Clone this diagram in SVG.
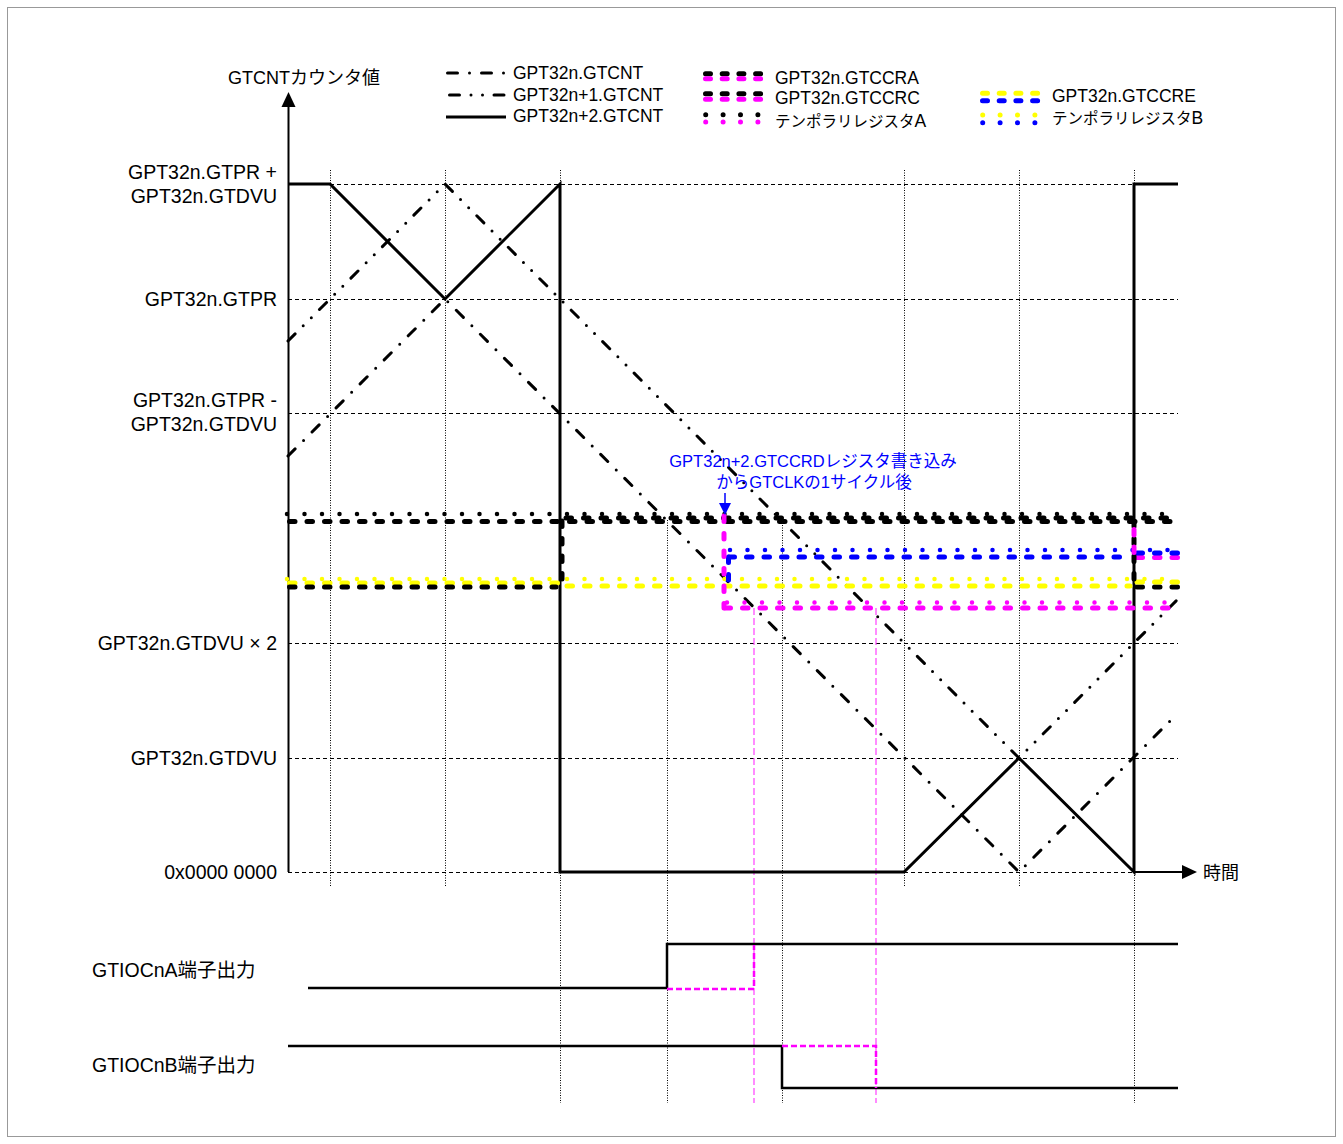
<svg xmlns="http://www.w3.org/2000/svg" width="1343" height="1144" viewBox="0 0 1343 1144">
<defs>
<style>
text{font-family:"Liberation Sans","Noto Sans CJK JP",sans-serif;fill:#000}
.lbl{font-size:19.5px}
.leg{font-size:17.5px}
.legj{font-size:15.5px}
.ann{font-size:16.5px;fill:#0000ff}
.grid{stroke:#000;stroke-width:1;stroke-dasharray:4 3;fill:none}
.vgrid{stroke:#000;stroke-width:1;stroke-dasharray:1 1.5;fill:none}
.sol{stroke:#000;stroke-width:3;fill:none;stroke-linejoin:miter}
.dd{stroke:#000;stroke-width:3;fill:none;stroke-linecap:round;stroke-dasharray:10 12 0 12}
.ddd{stroke:#000;stroke-width:3;fill:none;stroke-linecap:round;stroke-dasharray:10 11.5 0 11.5 0 11.5}
.rd{stroke-width:5;fill:none;stroke-linecap:round;stroke-dasharray:5.5 12}
.rt{stroke-width:4.5;fill:none;stroke-linecap:round;stroke-dasharray:0 17.5}
.ld{stroke-width:5;fill:none;stroke-linecap:round;stroke-dasharray:5 11.7}
.lt{stroke-width:5;fill:none;stroke-linecap:round;stroke-dasharray:0 17.4}
.k{stroke:#000}.m{stroke:#ff00ff}.y{stroke:#ffff00}.b{stroke:#0000ff}
.sig{stroke:#000;stroke-width:2.5;fill:none}
.msig{stroke:#ff00ff;stroke-width:2.5;fill:none;stroke-dasharray:6 3}
.mv{stroke:#ff40ff;stroke-width:1.2;fill:none;stroke-dasharray:7 3}
</style>
</defs>
<rect x="7.5" y="7.5" width="1328" height="1129" fill="#fff" stroke="#999" stroke-width="1"/>

<g id="grid">
<line class="grid" x1="288" y1="184.5" x2="1178" y2="184.5"/>
<line class="grid" x1="288" y1="299.5" x2="1178" y2="299.5"/>
<line class="grid" x1="288" y1="413.5" x2="1178" y2="413.5"/>
<line class="grid" x1="288" y1="643.5" x2="1178" y2="643.5"/>
<line class="grid" x1="288" y1="758.5" x2="1178" y2="758.5"/>
<line class="grid" x1="288" y1="872.5" x2="1178" y2="872.5"/>
<line class="vgrid" x1="330.5" y1="170" x2="330.5" y2="887"/>
<line class="vgrid" x1="445.5" y1="170" x2="445.5" y2="887"/>
<line class="vgrid" x1="560.5" y1="170" x2="560.5" y2="1103"/>
<line class="vgrid" x1="667.5" y1="520" x2="667.5" y2="1103"/>
<line class="vgrid" x1="782.5" y1="520" x2="782.5" y2="1103"/>
<line class="vgrid" x1="904.5" y1="170" x2="904.5" y2="887"/>
<line class="vgrid" x1="1019.5" y1="170" x2="1019.5" y2="887"/>
<line class="vgrid" x1="1134.5" y1="170" x2="1134.5" y2="1103"/>
<line class="mv" x1="754" y1="608" x2="754" y2="1103"/>
<line class="mv" x1="876" y1="608" x2="876" y2="1103"/>
</g>

<g id="axes">
<line x1="288.5" y1="872" x2="288.5" y2="102" stroke="#000" stroke-width="2"/>
<polygon points="288.5,92 281.5,107 295.5,107" fill="#000"/>
<line x1="1134" y1="872" x2="1186" y2="872" stroke="#000" stroke-width="2"/>
<polygon points="1197,872 1182,865 1182,879" fill="#000"/>
<text x="228" y="84" style="font-size:18px">GTCNTカウンタ値</text>
<text x="1203" y="879" style="font-size:18px">時間</text>
</g>

<g id="labels">
<text class="lbl" x="277" y="179" text-anchor="end">GPT32n.GTPR +</text>
<text class="lbl" x="277" y="203" text-anchor="end">GPT32n.GTDVU</text>
<text class="lbl" x="277" y="306" text-anchor="end">GPT32n.GTPR</text>
<text class="lbl" x="277" y="407" text-anchor="end">GPT32n.GTPR -</text>
<text class="lbl" x="277" y="431" text-anchor="end">GPT32n.GTDVU</text>
<text class="lbl" x="277" y="650" text-anchor="end">GPT32n.GTDVU × 2</text>
<text class="lbl" x="277" y="765" text-anchor="end">GPT32n.GTDVU</text>
<text class="lbl" x="277" y="879" text-anchor="end">0x0000 0000</text>
<text class="lbl" x="92" y="977">GTIOCnA端子出力</text>
<text class="lbl" x="92" y="1072">GTIOCnB端子出力</text>
</g>

<g id="legend">
<line class="dd" x1="447.5" y1="73" x2="506" y2="73"/>
<text class="leg" x="513" y="79">GPT32n.GTCNT</text>
<line class="ddd" x1="449.5" y1="95" x2="507" y2="95"/>
<text class="leg" x="513" y="100.7">GPT32n+1.GTCNT</text>
<line class="sol" x1="446" y1="117" x2="506" y2="117"/>
<text class="leg" x="513" y="121.7">GPT32n+2.GTCNT</text>

<line class="ld k" x1="705.5" y1="73.7" x2="761" y2="73.7"/>
<line class="ld m" x1="705.5" y1="78.7" x2="761" y2="78.7"/>
<text class="leg" x="775" y="84">GPT32n.GTCCRA</text>
<line class="ld k" x1="705.5" y1="93.7" x2="761" y2="93.7"/>
<line class="ld m" x1="705.5" y1="99.3" x2="761" y2="99.3"/>
<text class="leg" x="775" y="104">GPT32n.GTCCRC</text>
<line class="lt k" x1="705.7" y1="114.7" x2="760" y2="114.7"/>
<line class="lt m" x1="705.7" y1="122" x2="760" y2="122"/>
<text class="legj" x="775" y="126.5">テンポラリレジスタ<tspan class="leg">A</tspan></text>

<line class="ld y" x1="982.5" y1="93.3" x2="1040" y2="93.3"/>
<line class="ld b" x1="982.5" y1="100.7" x2="1040" y2="100.7"/>
<text class="leg" x="1052" y="101.5">GPT32n.GTCCRE</text>
<line class="lt y" x1="982.7" y1="115" x2="1037" y2="115"/>
<line class="lt b" x1="982.7" y1="122.7" x2="1037" y2="122.7"/>
<text class="legj" x="1052" y="123.5">テンポラリレジスタ<tspan class="leg">B</tspan></text>
</g>

<g id="counters">
<path id="cnt-n" class="dd" d="M288,456 L445,299 L1019,872 L1178,713"/>
<path id="cnt-n1" class="ddd" d="M288,341 L445,184 L1019,758 L1178,599"/>
<path id="cnt-n2" class="sol" d="M288,184 L330,184 L445,299 L560,184 L560,872 L904,872 L1019,758 L1134,872 L1134,184 L1178,184"/>
</g>

<g id="registers">
<line class="rt k" x1="287" y1="514" x2="1178" y2="514"/>
<line class="rd k" x1="289.5" y1="521.5" x2="1178" y2="521.5"/>
<line class="rd k" x1="566" y1="518" x2="1178" y2="518"/>
<line class="rt y" x1="287" y1="579" x2="1178" y2="579"/>
<line class="rd y" x1="289.5" y1="583" x2="560" y2="583"/>
<line class="rd k" x1="289.5" y1="587" x2="556" y2="587"/>
<line class="rd y" x1="567" y1="586" x2="1130" y2="586"/>
<line class="rd k" x1="1137" y1="587" x2="1178" y2="587"/>
<line class="rd y" x1="1137" y1="582" x2="1178" y2="582"/>
<line class="rt b" x1="730" y1="550" x2="1178" y2="550"/>
<line class="rd b" x1="729" y1="557" x2="1130" y2="557"/>
<line class="rd m" x1="1137" y1="557.5" x2="1178" y2="557.5"/>
<line class="rd b" x1="1137" y1="553" x2="1178" y2="553"/>
<line class="rt m" x1="727" y1="602.5" x2="1178" y2="602.5"/>
<line class="rd m" x1="725" y1="608" x2="1178" y2="608"/>
<line class="rd k" x1="562" y1="521" x2="562" y2="587"/>
<line class="rd b" x1="728.5" y1="557" x2="728.5" y2="586"/>
<line class="rd m" x1="724" y1="516" x2="724" y2="608"/>
<line class="rd k" x1="1134" y1="521" x2="1134" y2="587"/>
<line class="rd m" x1="1134" y1="520" x2="1134" y2="557" stroke-dashoffset="8"/>
</g>

<g id="annotation">
<text class="ann" x="813" y="467" text-anchor="middle">GPT32n+2.GTCCRDレジスタ書き込み</text>
<text class="ann" x="814" y="488" text-anchor="middle">からGTCLKの1サイクル後</text>
<line x1="725" y1="493" x2="725" y2="505" stroke="#0000ff" stroke-width="1.5"/>
<polygon points="719,503 731,503 725,515" fill="#0000ff"/>
</g>

<g id="signals">
<path class="sig" d="M308,988 H667 V944 H1178"/>
<path class="msig" d="M667,989 H754 V945"/>
<path class="sig" d="M288,1046 H782 V1088 H1178"/>
<path class="msig" d="M782,1046 H876 V1088"/>
</g>
</svg>
